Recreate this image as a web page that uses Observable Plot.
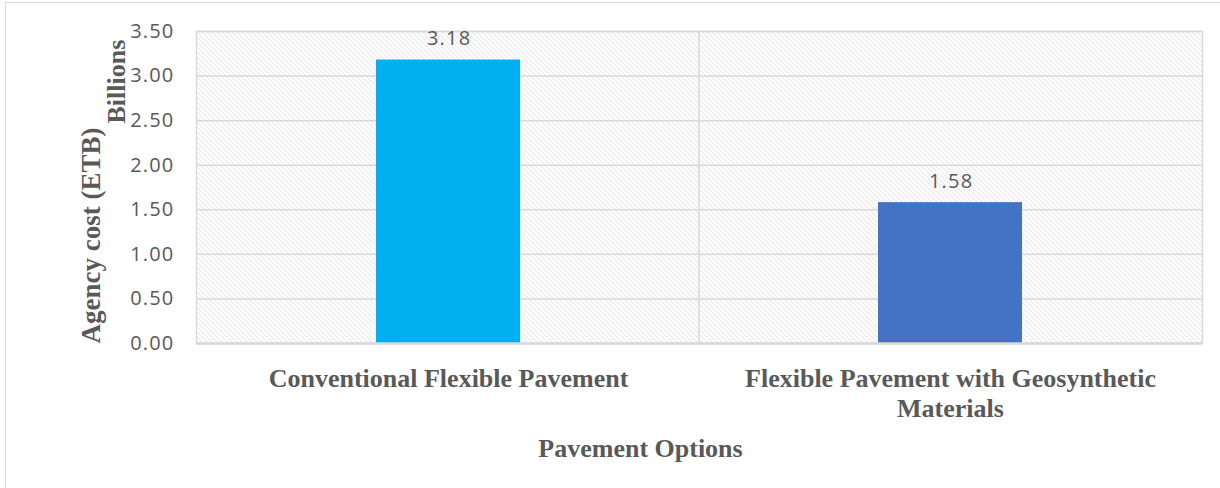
<!DOCTYPE html>
<html>
<head>
<meta charset="utf-8">
<script src="https://cdn.jsdelivr.net/npm/d3@7"></script>
<script src="https://cdn.jsdelivr.net/npm/@observablehq/plot@0.6"></script>
<style>
  html, body { margin: 0; padding: 0; background: #fff; overflow: hidden; }
  #wrap { position: relative; width: 1220px; height: 488px; }
  #border { position: absolute; left: 5px; top: 2px; width: 1400px; height: 700px; border: 1px solid #d9d9d9; pointer-events: none; }
  #chart { position: absolute; left: 0; top: 0; }
</style>
</head>
<body>
<svg width="0" height="0" style="position:absolute">
  <defs>
    <pattern id="hatch" width="5" height="5" patternUnits="userSpaceOnUse">
      <path d="M0,0 L5,5 M-1,4 L1,6 M4,-1 L6,1" stroke="#d9d9d9" stroke-width="1" fill="none"/>
    </pattern>
  </defs>
</svg>
<div id="wrap">
  <div id="chart"></div>
  <div id="border"></div>
</div>
<script>
const categories = ["Conventional Flexible Pavement", "Flexible Pavement with Geosynthetic Materials"];
const tickLabels = ["Conventional Flexible Pavement", "Flexible Pavement with Geosynthetic\nMaterials"];
const values = [3.18, 1.58];
const barColors = ["#00B0F0", "#4472C4"];
const yTicks = [0, 0.5, 1, 1.5, 2, 2.5, 3, 3.5];

const data = categories.map((c, i) => ({cat: c, value: values[i]}));

const serif = "'Liberation Serif', 'Times New Roman', serif";
const sans = "'Open Sans', sans-serif";
const textColor = "#595959";
const grid = "#d9d9d9";

const divider = (index, scales, values, dims) => {
  const x = scales.x;
  const b = (x(categories[0]) + x.bandwidth() + x(categories[1])) / 2;
  const line = document.createElementNS("http://www.w3.org/2000/svg", "line");
  line.setAttribute("x1", b); line.setAttribute("x2", b);
  line.setAttribute("y1", dims.marginTop);
  line.setAttribute("y2", dims.height - dims.marginBottom);
  line.setAttribute("stroke", grid);
  line.setAttribute("stroke-width", 1.5);
  return line;
};

const chart = Plot.plot({
  width: 1220,
  height: 488,
  marginLeft: 196,
  marginRight: 18,
  marginTop: 31,
  marginBottom: 145,
  style: {background: "transparent", overflow: "visible"},
  x: {domain: categories, paddingInner: 0.7137, paddingOuter: 0.3569, axis: null},
  y: {domain: [0, 3.5], axis: null},
  color: {domain: categories, range: barColors},
  marks: [
    Plot.frame({fill: "url(#hatch)", stroke: grid, strokeWidth: 1.5}),
    Plot.gridY(yTicks, {stroke: grid, strokeOpacity: 1, strokeWidth: 1.5}),
    divider,
    Plot.barY(data, {x: "cat", y: "value", fill: "cat"}),
    Plot.ruleY([0], {stroke: grid, strokeWidth: 2.5}),
    Plot.axisY({ticks: yTicks, tickSize: 0, tickPadding: 22, tickFormat: d3.format(".2f"),
      fontSize: 20, fontFamily: sans, fill: textColor, label: null}),
    Plot.axisX({tickSize: 0, tickPadding: 22, tickFormat: (d) => tickLabels[categories.indexOf(d)],
      fontSize: 26, fontFamily: serif, fontWeight: "bold", fill: textColor, lineHeight: 1.15, label: null}),
    Plot.text(data, {x: "cat", y: "value", text: (d) => d.value.toFixed(2), dy: -21, dx: 0.6,
      fontSize: 20, fontFamily: sans, fill: textColor}),
    Plot.text(["Pavement Options"], {frameAnchor: "bottom", dx: -59, dy: 113.7,
      fontSize: 26, fontFamily: serif, fontWeight: "bold", fill: textColor}),
    Plot.text(["Agency cost (ETB)"], {frameAnchor: "bottom-left", dx: -97, dy: 0, rotate: -90,
      textAnchor: "start", fontSize: 27, fontFamily: serif, fontWeight: "bold", fill: textColor}),
    Plot.text(["Billions"], {frameAnchor: "top-left", dx: -90, dy: 92, rotate: -90,
      textAnchor: "start", fontSize: 26, fontFamily: serif, fontWeight: "bold", fill: textColor})
  ]
});
d3.select(chart).selectAll("g[font-size='20'] text").attr("letter-spacing", "1.2px");
document.getElementById("chart").appendChild(chart);
</script>
</body>
</html>
